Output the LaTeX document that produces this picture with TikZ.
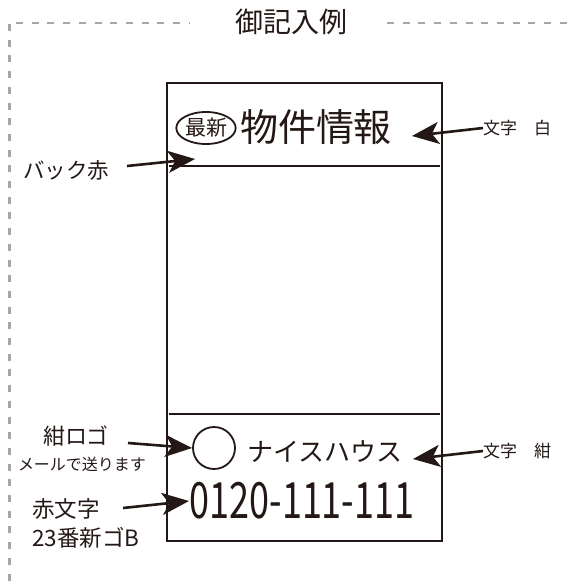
\documentclass[tikz,border=0pt]{standalone}
\usepackage{fontspec}
\setmainfont{Noto Sans CJK JP}
\usetikzlibrary{arrows.meta,shapes.geometric}
\definecolor{dashgrey}{HTML}{A6A6A6}
\definecolor{ink}{HTML}{231815}
\begin{document}
\begin{tikzpicture}[x=1pt,y=-1pt,
  frame/.style={draw=dashgrey,line width=2.4pt,dash pattern=on 7pt off 8.7pt},
  card/.style={draw=ink,line width=2.2pt,rectangle,inner sep=0pt},
  divider/.style={draw=ink,line width=2.2pt},
  pointer/.style={draw=ink,line width=2.6pt,-{Stealth[length=27pt,width=22pt,inset=7pt]}},
  lbl/.style={text=ink,inner sep=0pt},
]
\useasboundingbox (0,0) rectangle (571,582);
% dashed frame
\coordinate (fl0) at (16,23);
\coordinate (fl1) at (190,23);
\coordinate (fr0) at (387,23);
\coordinate (fr1) at (571,23);
\coordinate (fv0) at (9.5,24);
\coordinate (fv1) at (9.5,582);
\draw[frame] (fl0) -- (fl1);
\draw[frame] (fr0) -- (fr1);
\draw[frame] (fv0) -- (fv1);
\node[lbl,font=\fontsize{28pt}{30pt}\selectfont] (title) at (291,22) {御記入例};
% card
\node[card,minimum width=275pt,minimum height=458pt] (cardbox) at (304.5,312) {};
\coordinate (d1l) at (169,166);
\coordinate (d1r) at (440,166);
\coordinate (d2l) at (169,414);
\coordinate (d2r) at (440,414);
\draw[divider] (d1l) -- (d1r);
\draw[divider] (d2l) -- (d2r);
% header
\node[lbl,draw=ink,line width=1.8pt,ellipse,minimum width=58pt,minimum height=32pt,inner sep=0pt,font=\fontsize{21pt}{22pt}\selectfont] (newest) at (206,128) {最新};
\node[lbl,font=\fontsize{38pt}{40pt}\selectfont] (bukken) at (316,127) {物件情報};
\node[lbl,anchor=west,font=\fontsize{17pt}{18pt}\selectfont] (white) at (483,128) {文字　白};
\coordinate (whitetip) at (412,136);
\draw[pointer] (white.west) -- (whitetip);
\node[lbl,anchor=west,font=\fontsize{21.5pt}{22pt}\selectfont] (backred) at (23,170) {バック赤};
\coordinate (backtail) at (127,166);
\coordinate (backtip) at (195,159);
\draw[pointer] (backtail) -- (backtip);
% footer
\node[lbl,draw=ink,line width=1.8pt,circle,minimum size=42pt] (logo) at (214,448) {};
\node[lbl,font=\fontsize{26pt}{28pt}\selectfont] (house) at (325,452) {ナイスハウス};
\node[lbl,anchor=west,font=\fontsize{17pt}{18pt}\selectfont] (navy) at (483,451) {文字　紺};
\coordinate (navytip) at (413,459);
\draw[pointer] (navy.west) -- (navytip);
\node[lbl,font=\fontsize{22pt}{24pt}\selectfont] (logolbl) at (76,436) {紺ロゴ};
\node[lbl,font=\fontsize{16pt}{18pt}\selectfont] (mail) at (82,464) {メールで送ります};
\coordinate (logotail) at (128,443);
\draw[pointer] (logotail) -- (logo.west);
\node[lbl,font=\fontsize{50pt}{52pt}\selectfont] (phone) at (302,501) {\scalebox{0.72}[1]{0120-111-111}};
\node[lbl,font=\fontsize{22.5pt}{24pt}\selectfont] (redlbl) at (66,509) {赤文字};
\node[lbl,font=\fontsize{22.5pt}{24pt}\selectfont] (fontlbl) at (86,538) {23番新ゴB};
\coordinate (redtail) at (123,508);
\coordinate (redtip) at (189,501);
\draw[pointer] (redtail) -- (redtip);
\end{tikzpicture}
\end{document}
